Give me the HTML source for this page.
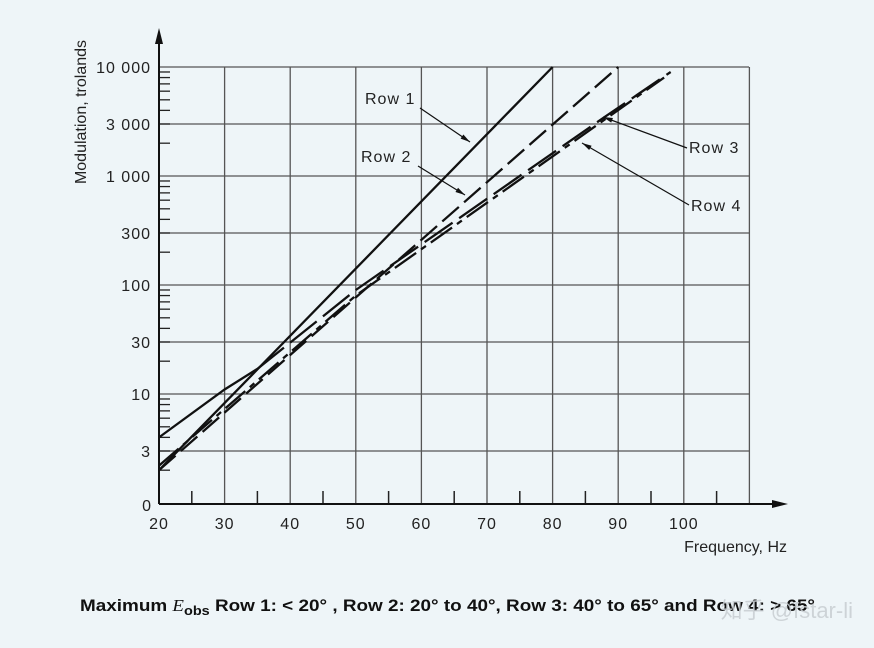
<!DOCTYPE html>
<html><head><meta charset="utf-8"><style>
html,body{margin:0;padding:0;background:#eef5f8;}
svg{display:block;}
text{font-family:"Liberation Sans",sans-serif;}
</style></head><body>
<svg id="chart" width="874" height="648" viewBox="0 0 874 648">
<rect x="0" y="0" width="874" height="648" fill="#eef5f8"/>
<g id="grid"></g>
<g id="axes"></g>
<g id="series"></g>
<text x="86" y="112" transform="rotate(-90 86 112)" text-anchor="middle" font-size="16" fill="#222">Modulation, trolands</text>
<text x="787" y="552" text-anchor="end" font-size="16" fill="#222">Frequency, Hz</text>
<text x="80" y="611" font-size="17" font-weight="bold" fill="#111" textLength="735" lengthAdjust="spacingAndGlyphs">Maximum <tspan font-family="Liberation Serif" font-style="italic" font-weight="normal">E</tspan><tspan font-size="13" dy="4">obs</tspan><tspan dy="-4"> Row 1: &lt; 20° , Row 2: 20° to 40°, Row 3: 40° to 65° and Row 4: &gt; 65°</tspan></text>
<text x="853" y="618" text-anchor="end" font-size="22" fill="#c8ced2" opacity="0.85" font-family="Liberation Sans, Noto Sans CJK SC, sans-serif">知乎 @fstar-li</text>
<g font-size="16" fill="#222" letter-spacing="1">
<text x="365" y="104">Row 1</text>
<text x="361" y="162">Row 2</text>
<text x="689" y="153">Row 3</text>
<text x="691" y="211">Row 4</text>
</g>
</svg>
<script>
const xTicks = [20,30,40,50,60,70,80,90,100,110];
const xTickLabels = ["20","30","40","50","60","70","80","90","100",""];
const yTicks = [3,10,30,100,300,1000,3000,10000];
const yTickLabels = ["3","10","30","100","300","1 000","3 000","10 000"];
const row1Freq = [20,80];
const row1Val = [2.0,10000];
const row2Freq = [20,90];
const row2Val = [2.0,10000];
const row3Freq = [20,30,35,50,88,98];
const row3Val = [4.0,11,17,90,3500,9000];
const row4Freq = [20,50,97];
const row4Val = [2.2,80,8000];

const NS="http://www.w3.org/2000/svg";
function xs(f){return 159+(f-20)*6.56;}
function ys(v){return 394-109*Math.log10(v/10);}
function mk(tag,attrs,parent){const e=document.createElementNS(NS,tag);for(const k in attrs)e.setAttribute(k,attrs[k]);parent.appendChild(e);return e;}
const grid=document.getElementById('grid'),axes=document.getElementById('axes'),series=document.getElementById('series');
xTicks.forEach((f,i)=>{
  if(i>0){const l=mk('line',{x1:xs(f),x2:xs(f),y1:ys(10000),y2:504,stroke:'#555','stroke-width':1.3},grid);
  
  }
  const t=mk('text',{x:xs(f),y:529,'text-anchor':'middle','font-size':16,'letter-spacing':1,fill:'#222'},axes);t.textContent=xTickLabels[i];
  
  
  if(i<xTicks.length-1){const m=mk('line',{x1:xs(f+5),x2:xs(f+5),y1:491,y2:504,stroke:'#222','stroke-width':1.5},axes);
  
  }
});
yTicks.forEach((v,i)=>{
  const l=mk('line',{x1:159,x2:749,y1:ys(v),y2:ys(v),stroke:'#555','stroke-width':1.3},grid);
  
  
  const t=mk('text',{x:151,y:ys(v)+6,'text-anchor':'end','font-size':16,'letter-spacing':1,fill:'#222'},axes);t.textContent=yTickLabels[i];
  
  
});
const t0=mk('text',{x:151,y:511,'text-anchor':'end','font-size':16,fill:'#222'},axes);t0.textContent='0';


[1,10,100,1000].forEach(d=>{[2,3,4,5,6,7,8,9].forEach(k=>{const v=d*k;if(v<1.5)return;
  const m=mk('line',{x1:159,x2:170,y1:ys(v),y2:ys(v),stroke:'#222','stroke-width':1.3},axes);
  
  });});
const xa=mk('line',{x1:159,x2:780,y1:504,y2:504,stroke:'#111','stroke-width':2},axes);


const xh=mk('polygon',{points:'788,504 772,500 772,508',fill:'#111'},axes);


const ya=mk('line',{x1:159,x2:159,y1:36,y2:504,stroke:'#111','stroke-width':2},axes);


const yh=mk('polygon',{points:'159,28 155,44 163,44',fill:'#111'},axes);


function line(fr,vals,dash,name){
  const pts=fr.map((f,i)=>xs(f)+','+ys(vals[i])).join(' ');
  const p=mk('polyline',{points:pts,fill:'none',stroke:'#111','stroke-width':2.3,'stroke-dasharray':dash},series);
  
  
}
line(row1Freq,row1Val,'none','row-1-line');
line(row2Freq,row2Val,'22 7','row-2-line');
const split=3;
line(row3Freq.slice(0,split),row3Val.slice(0,split),'none','row-3-line-solid');
line(row3Freq.slice(split-1),row3Val.slice(split-1),'34 8','row-3-line-dashed');
line(row4Freq,row4Val,'26 6 6 6','row-4-line');
[[420,108,470,142],[418,166,465,195],[687,148,603,117],[689,205,582,143]].forEach(a=>{
  const l=mk('line',{x1:a[0],y1:a[1],x2:a[2],y2:a[3],stroke:'#111','stroke-width':1.2},series);
  
  
  const ang=Math.atan2(a[3]-a[1],a[2]-a[0]),L=10,w=0.25;
  const p1=[a[2]-L*Math.cos(ang-w),a[3]-L*Math.sin(ang-w)],p2=[a[2]-L*Math.cos(ang+w),a[3]-L*Math.sin(ang+w)];
  const h=mk('polygon',{points:`${a[2]},${a[3]} ${p1} ${p2}`,fill:'#111'},series);
  
  
});
</script>
</body></html>
